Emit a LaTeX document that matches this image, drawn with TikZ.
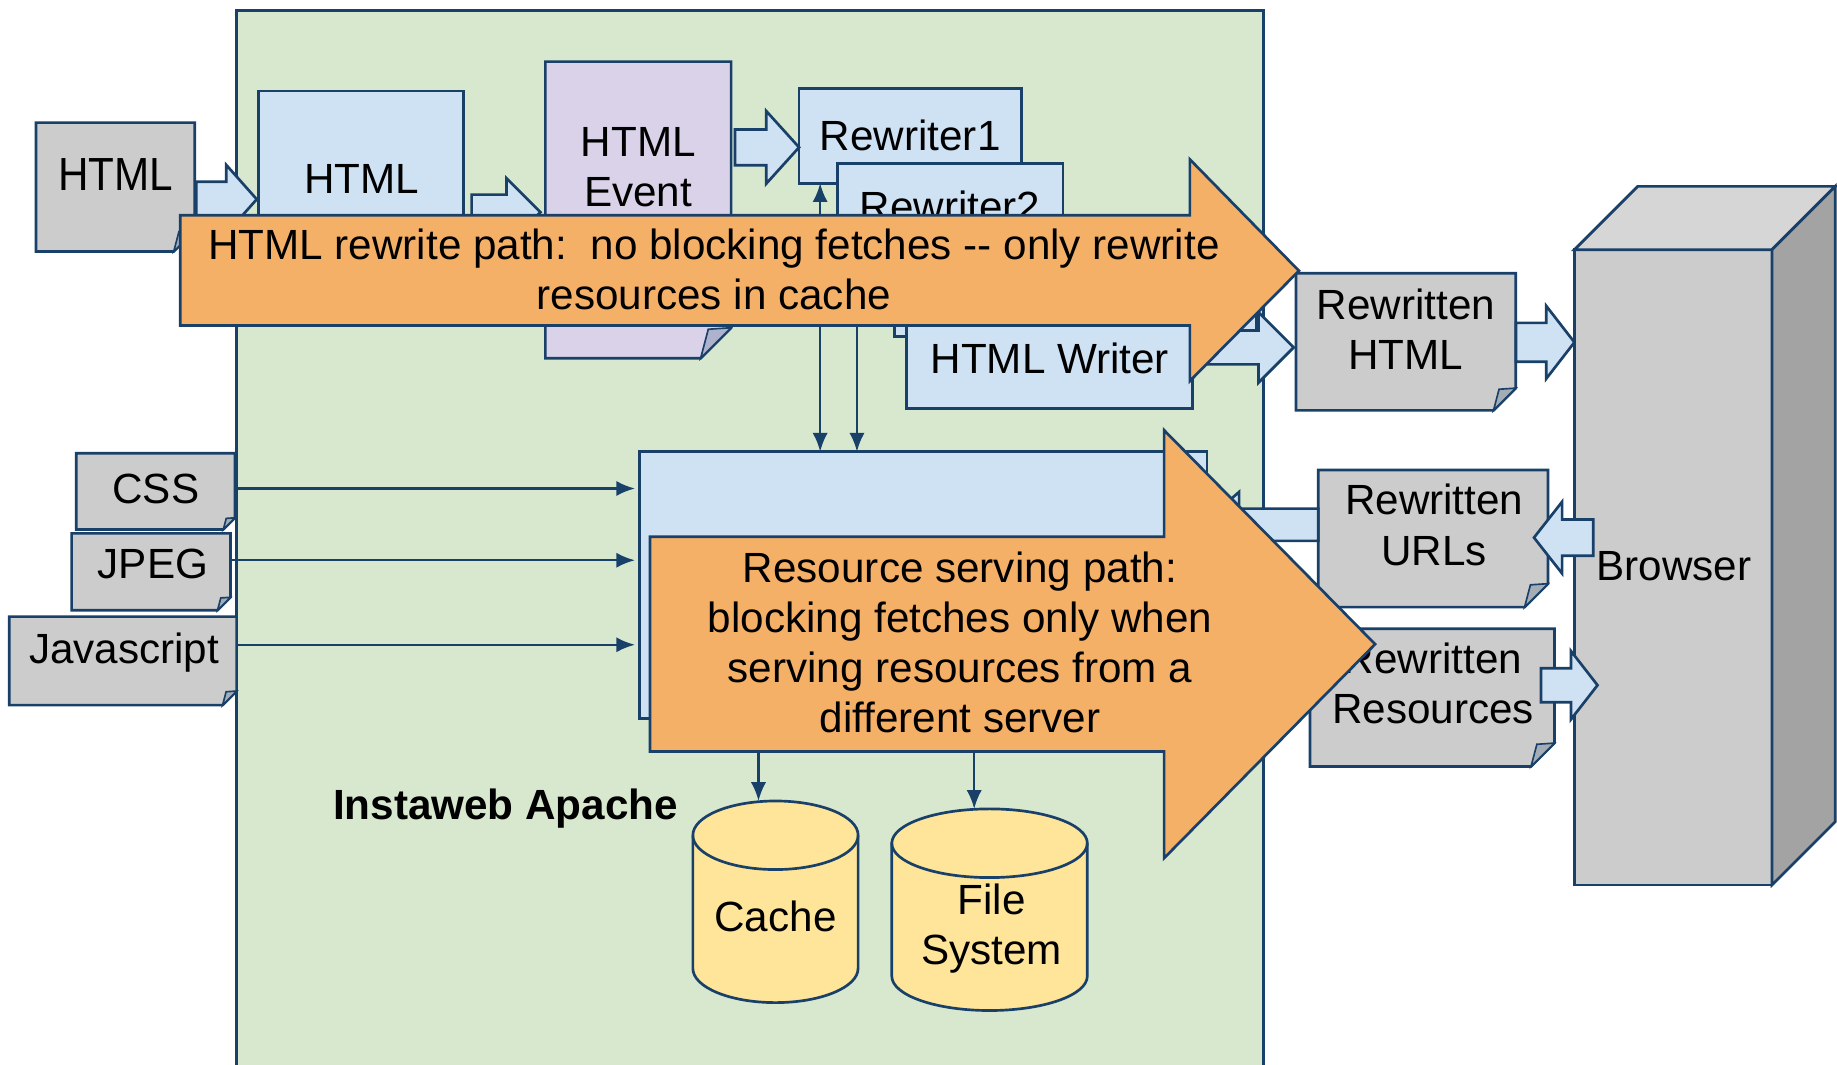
\documentclass[tikz,border=0pt]{standalone}
\usepackage{fontspec}
\setmainfont{Liberation Sans}
\usepackage{graphicx}
\usetikzlibrary{calc,arrows.meta}
\definecolor{dkblue}{RGB}{24,64,105}
\definecolor{grn}{RGB}{216,232,207}
\definecolor{lblue}{RGB}{207,226,243}
\definecolor{purp}{RGB}{217,210,233}
\definecolor{gry}{RGB}{204,204,204}
\definecolor{orng}{RGB}{245,176,104}
\definecolor{ylw}{RGB}{255,229,153}
\definecolor{gtop}{RGB}{214,214,214}
\definecolor{gside}{RGB}{163,163,163}
% document shape with folded bottom-right corner, drawn on a named slot node
\newcommand\docshape[3]{%
  \draw[outl, fill=#3] (#1.north west) -- (#1.north east) -- ([yshift=#2]#1.south east)
     -- ([xshift=-#2]#1.south east) -- (#1.south west) -- cycle;
  \draw[draw=dkblue, line width=0.8pt, fill=#3!78!dkblue] ([xshift=-#2]#1.south east)
     -- ([xshift=-0.75*#2, yshift=0.95*#2]#1.south east) -- ([yshift=#2]#1.south east) -- cycle;
}
% block arrow: tail, tip, head length, half shaft, half head (px units)
\newcommand\barrow[5]{%
  \draw[blk] ($(#1)+(0,-#4)$) -- ($(#2)+({-(#3)},-#4)$) -- ($(#2)+({-(#3)},-#5)$) -- (#2)
     -- ($(#2)+({-(#3)},#5)$) -- ($(#2)+({-(#3)},#4)$) -- ($(#1)+(0,#4)$) -- cycle;
}
% cylinder: left x, right x, top centre y, bottom centre y, x radius, y radius
\newcommand\cyl[6]{%
  \draw[outl, fill=ylw] (#1,#3) -- (#1,#4) arc[start angle=180,end angle=360,x radius=#5,y radius=#6]
     -- (#2,#3) arc[start angle=0,end angle=180,x radius=#5,y radius=#6] -- cycle;
  \draw[outl] (#1,#3) arc[start angle=180,end angle=360,x radius=#5,y radius=#6];
}
\begin{document}
\begin{tikzpicture}[x=0.02cm, y=-0.02cm,
  outl/.style={draw=dkblue, line width=1.3pt, line join=miter},
  slot/.style={draw=none, fill=none, inner sep=0pt, outer sep=0pt, anchor=north west},
  rbox/.style={outl, inner sep=0pt, outer sep=0pt, anchor=north west},
  lbl/.style={inner sep=0pt, outer sep=0pt, align=center, font=\fontsize{20.5pt}{24.3pt}\selectfont},
  blk/.style={outl, fill=lblue},
  thinln/.style={draw=dkblue, line width=1.2pt},
  thinarr/.style={thinln, -{Latex[length=0.32cm,width=0.26cm]}},
  thinboth/.style={thinln, {Latex[length=0.32cm,width=0.26cm]}-{Latex[length=0.32cm,width=0.26cm]}},
  orange/.style={outl, fill=orng}
]
\useasboundingbox (0,0) rectangle (1567,908);

% container
\node[rbox, fill=grn, minimum width=17.53cm, minimum height=18.07cm] (apache) at (201.7,8.7) {};

% HTML input
\node[slot, minimum width=2.71cm, minimum height=2.2cm] (htmlin) at (30.7,104.6) {};
\docshape{htmlin}{0.36cm}{gry}
\node[lbl, anchor=base] (htmlinT) at (98.8,162.1) {\scalebox{1}[1.1]{HTML}};

% HTML parser box
\node[rbox, fill=lblue, minimum width=3.5cm, minimum height=3.25cm] (htmlblue) at (220.4,77.6) {};
\node[lbl, anchor=base] (htmlblueT) at (308.5,164.9) {HTML};
\coordinate (a1s) at (167.5,170);
\coordinate (a1e) at (219,170);
\barrow{a1s}{a1e}{26}{15}{29.3}

% HTML Event
\node[slot, minimum width=3.17cm, minimum height=5.06cm] (event) at (465.2,52.6) {};
\docshape{event}{0.52cm}{purp}
\node[lbl] (eventT) at (544.4,146.2) {\strut HTML\\\strut Event};
\coordinate (a2s) at (402.3,181);
\coordinate (a2e) at (461,181);
\barrow{a2s}{a2e}{29}{15}{29}

% Rewriters
\node[rbox, fill=lblue, minimum width=3.79cm, minimum height=1.62cm] (rw1) at (681.6,75.3) {};
\node[lbl, anchor=base] (rw1T) at (776.4,128) {Rewriter1};
\coordinate (a3s) at (627,125.7);
\coordinate (a3e) at (681.6,125.7);
\barrow{a3s}{a3e}{28}{15.3}{31}
\node[rbox, fill=lblue, minimum width=3.85cm, minimum height=1.71cm] (rw2) at (714.2,139.3) {};
\node[lbl, anchor=base] (rw2T) at (810.5,189.1) {Rewriter2};
\node[rbox, fill=lblue, minimum width=6.18cm, minimum height=1.64cm] (rw3) at (763,205) {};

% HTML Writer
\coordinate (a4s) at (1017,296.4);
\coordinate (a4e) at (1103.5,296.4);
\barrow{a4s}{a4e}{30}{14.4}{30}
\node[rbox, fill=lblue, minimum width=4.88cm, minimum height=1.42cm] (writer) at (773,277.2) {};
\node[lbl, anchor=base] (writerT) at (895.5,318.5) {HTML Writer};

% resource server box
\node[rbox, fill=lblue, minimum width=9.68cm, minimum height=4.55cm] (res) at (545.7,385.3) {};
\draw[thinboth] (699.6,0 |- rw1.south) -- (699.6,0 |- res.north);
\draw[thinarr] (731,0 |- rw2.south) -- (731,0 |- res.north);

% resource inputs
\node[slot, minimum width=2.71cm, minimum height=1.3cm] (css) at (65,386.7) {};
\docshape{css}{0.2cm}{gry}
\node[lbl, anchor=base] (cssT) at (132.9,429.3) {CSS};
\node[slot, minimum width=2.71cm, minimum height=1.31cm] (jpeg) at (61.1,455) {};
\docshape{jpeg}{0.22cm}{gry}
\node[lbl, anchor=base] (jpegT) at (130.4,493.3) {JPEG};
\node[slot, minimum width=3.88cm, minimum height=1.51cm] (js) at (7.9,526) {};
\docshape{js}{0.24cm}{gry}
\node[lbl, anchor=base] (jsT) at (105.9,566.4) {Javascript};
\draw[thinarr, shorten >=0.08cm] (css.east |- 0,416.7) -- (res.west |- 0,416.7);
\draw[thinarr, shorten >=0.08cm] (jpeg.east |- 0,477.9) -- (res.west |- 0,477.9);
\draw[thinarr, shorten >=0.08cm] (js.east |- 0,550) -- (res.west |- 0,550);

% Rewritten HTML and browser
\node[slot, minimum width=3.75cm, minimum height=2.34cm] (rhtml) at (1105.5,233.1) {};
\docshape{rhtml}{0.38cm}{gry}
\node[lbl] (rhtmlT) at (1199.2,285.7) {\strut Rewritten\\\strut HTML};

\node[slot, minimum width=3.37cm, minimum height=10.84cm] (browser) at (1343,213) {};
\draw[outl, fill=gry] (browser.north west) rectangle (browser.south east);
\draw[outl, fill=gtop] (browser.north west) -- ++(54,-54) -- ($(browser.north east)+(54,-54)$) -- (browser.north east) -- cycle;
\draw[outl, fill=gside] (browser.north east) -- ++(54,-54) -- ($(browser.south east)+(54,-54)$) -- (browser.south east) -- cycle;
\node[lbl, anchor=base] (browserT) at (1428,495) {Browser};

\coordinate (a5s) at (1293.2,292);
\coordinate (a5e) at (1343,292);
\barrow{a5s}{a5e}{24}{16.6}{31}

% Rewritten URLs
\node[slot, minimum width=3.92cm, minimum height=2.34cm] (rurl) at (1124.5,400.9) {};
\docshape{rurl}{0.4cm}{gry}
\node[lbl] (rurlT) at (1223.4,452.1) {\strut Rewritten\\\strut URLs};
\coordinate (a6s) at (1359,458.6);
\coordinate (a6e) at (1308.5,458.6);
\barrow{a6s}{a6e}{-24}{15.5}{30.6}
\coordinate (a7s) at (1124.5,447.6);
\coordinate (a7e) at (1025,447.6);
\barrow{a7s}{a7e}{-32}{13.75}{28}

% Rewritten Resources
\node[slot, minimum width=4.17cm, minimum height=2.35cm] (rres) at (1117.5,536.4) {};
\docshape{rres}{0.4cm}{gry}
\node[lbl] (rresT) at (1222.4,587.3) {\strut Rewritten\\\strut Resources};
\coordinate (a8s) at (1314.5,584.5);
\coordinate (a8e) at (1362.7,584.5);
\barrow{a8s}{a8e}{22.7}{14.5}{29.2}

% orange arrow 1
\draw[orange] (153.7,183.6) -- (1015,183.6) -- (1015,136) -- (1108,231) -- (1015,325) -- (1015,277.6) -- (153.7,277.6) -- cycle;
\node[lbl] (o1T) at (609,234.3) {\strut HTML rewrite path:\ \ no blocking fetches -\kern0pt- only rewrite\\\strut resources in cache};

% orange arrow 2
\draw[orange] (554.5,457.8) -- (993,457.8) -- (993,367) -- (1173,549.5) -- (993,732) -- (993,641) -- (554.5,641) -- cycle;
\node[lbl] (o2T) at (818.9,552.4) {\strut Resource serving path:\\\strut blocking fetches only when\\\strut serving resources from a\\\strut different server};

% storage
\node[slot, minimum width=2.82cm, minimum height=3.44cm] (cache) at (591,683.25) {};
\cyl{591}{732}{712.5}{826}{1.41cm}{0.585cm}
\node[lbl, anchor=base] (cacheT) at (661.5,795) {Cache};
\node[slot, minimum width=3.336cm, minimum height=3.44cm] (fs) at (760.7,690) {};
\cyl{760.7}{927.5}{719.3}{832.7}{1.668cm}{0.586cm}
\node[lbl] (fsT) at (845.8,792.8) {\strut File\\\strut System};
\coordinate (o2a) at (647,641);
\coordinate (o2b) at (831,641);
\draw[thinarr] (o2a) -- (o2a |- cache.north);
\draw[thinarr] (o2b) -- (o2b |- fs.north);

\node[lbl, anchor=base, font=\fontsize{20.5pt}{24.3pt}\selectfont\bfseries] (apacheT) at (431.2,699.4) {Instaweb Apache};
\end{tikzpicture}
\end{document}
